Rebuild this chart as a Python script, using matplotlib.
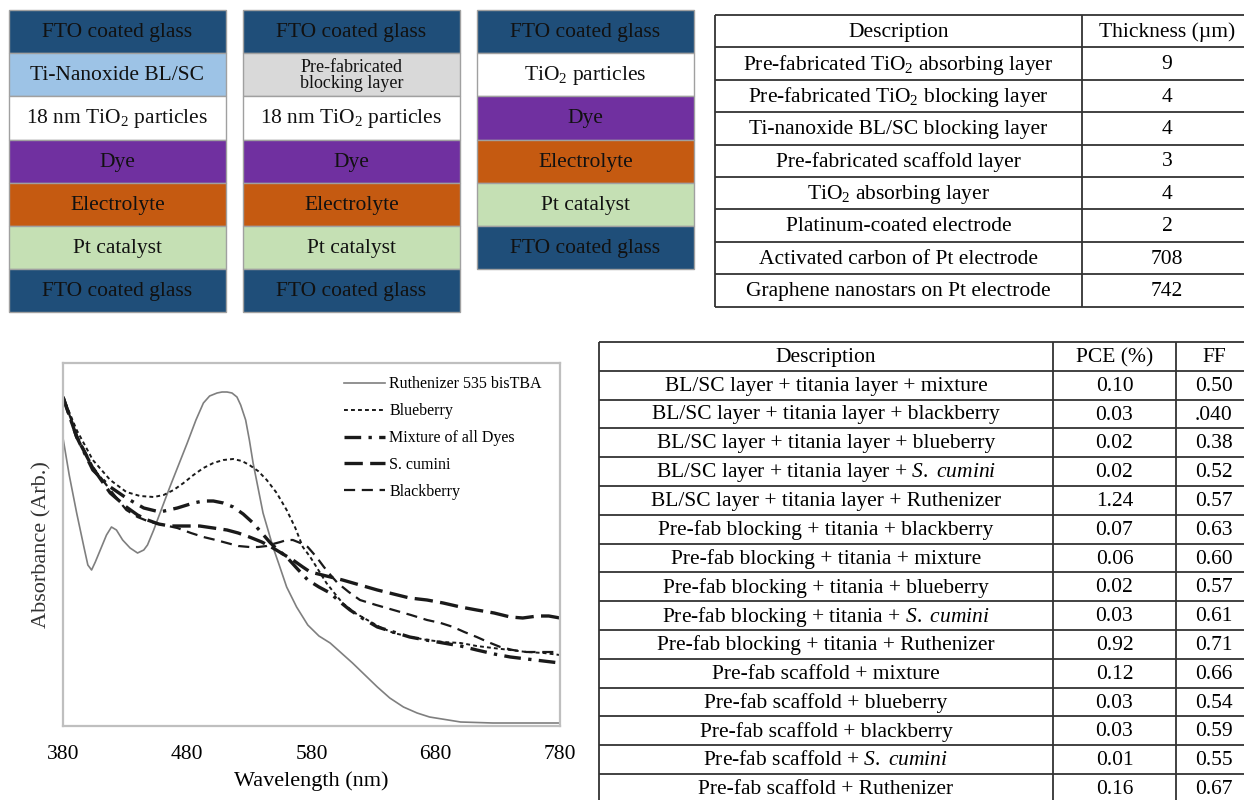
import matplotlib
matplotlib.use("Agg")
import matplotlib.pyplot as plt
from matplotlib.patches import Rectangle

plt.rcParams['font.family'] = ['Liberation Serif', 'DejaVu Serif']
plt.rcParams['mathtext.fontset'] = 'custom'
plt.rcParams['mathtext.rm'] = 'Liberation Serif'
plt.rcParams['mathtext.it'] = 'Liberation Serif:italic'

# ---------------- data ----------------
# layer stacks (label, colour key)
stack1 = [("FTO coated glass", "fto"), ("Ti-Nanoxide BL/SC", "bl"), ("18 nm TiO$_2$ particles", "white"),
          ("Dye", "dye"), ("Electrolyte", "elec"), ("Pt catalyst", "pt"), ("FTO coated glass", "fto")]
stack2 = [("FTO coated glass", "fto"), ("Pre-fabricated\nblocking layer", "gray"), ("18 nm TiO$_2$ particles", "white"),
          ("Dye", "dye"), ("Electrolyte", "elec"), ("Pt catalyst", "pt"), ("FTO coated glass", "fto")]
stack3 = [("FTO coated glass", "fto"), ("TiO$_2$ particles", "white"), ("Dye", "dye"),
          ("Electrolyte", "elec"), ("Pt catalyst", "pt"), ("FTO coated glass", "fto")]
layer_colors = {"fto": "#1F4E79", "bl": "#9DC3E6", "gray": "#D9D9D9", "white": "#FFFFFF",
                "dye": "#7030A0", "elec": "#C55A11", "pt": "#C5E0B4"}

# thickness table
thick_header = ["Description", "Thickness (µm)"]
thick_desc = ["Pre-fabricated TiO$_2$ absorbing layer", "Pre-fabricated TiO$_2$ blocking layer",
              "Ti-nanoxide BL/SC blocking layer", "Pre-fabricated scaffold layer",
              "TiO$_2$ absorbing layer", "Platinum-coated electrode",
              "Activated carbon of Pt electrode", "Graphene nanostars on Pt electrode"]
thick_vals = ["9", "4", "4", "3", "4", "2", "708", "742"]

# performance table
perf_header = ["Description", "PCE (%)", "FF"]
perf_desc = ["BL/SC layer + titania layer + mixture",
             "BL/SC layer + titania layer + blackberry",
             "BL/SC layer + titania layer + blueberry",
             r"BL/SC layer + titania layer + $\it{S.\ cumini}$",
             "BL/SC layer + titania layer + Ruthenizer",
             "Pre-fab blocking + titania + blackberry",
             "Pre-fab blocking + titania + mixture",
             "Pre-fab blocking + titania + blueberry",
             r"Pre-fab blocking + titania + $\it{S.\ cumini}$",
             "Pre-fab blocking + titania + Ruthenizer",
             "Pre-fab scaffold + mixture",
             "Pre-fab scaffold + blueberry",
             "Pre-fab scaffold + blackberry",
             r"Pre-fab scaffold + $\it{S.\ cumini}$",
             "Pre-fab scaffold + Ruthenizer"]
perf_pce = ["0.10", "0.03", "0.02", "0.02", "1.24", "0.07", "0.06", "0.02", "0.03", "0.92",
            "0.12", "0.03", "0.03", "0.01", "0.16"]
perf_ff = ["0.50", ".040", "0.38", "0.52", "0.57", "0.63", "0.60", "0.57", "0.61", "0.71",
           "0.66", "0.54", "0.59", "0.55", "0.67"]

# absorbance spectra (arbitrary units)
ru_wl = [380, 385, 391, 397, 400, 403, 406, 411, 415, 419, 423, 428, 434, 440, 445, 448, 453, 459, 466,
         473, 480, 487, 493, 498, 504, 508, 512, 516, 520, 523, 527, 530, 533, 537, 541, 545, 549, 554,
         560, 568, 577, 586, 595, 604, 613, 623, 633, 643, 654, 665, 675, 690, 700, 726, 780]
ru_abs = [288, 251, 213, 178, 161, 156, 164, 179, 191, 199, 196, 186, 178, 173, 176, 181, 196, 216, 239,
          261, 283, 306, 323, 330, 333, 334, 334, 333, 329, 321, 306, 286, 263, 238, 213, 196, 179, 161,
          139, 119, 101, 90, 83, 73, 63, 51, 39, 28, 19, 13, 9, 6, 4, 3, 3]

bb_wl = [380, 391, 404, 418, 431, 442, 453, 461, 469, 477, 485, 493, 501, 509, 517, 524, 530, 537, 544,
         552, 560, 567, 573, 579, 586, 592, 599, 605, 615, 625, 635, 646, 660, 673, 686, 700, 713, 726,
         740, 753, 767, 780]
bb_abs = [329, 296, 266, 246, 234, 230, 229, 231, 236, 243, 251, 258, 263, 266, 267, 265, 261, 255, 246,
          233, 216, 198, 179, 169, 155, 143, 132, 123, 113, 106, 99, 93, 89, 86, 84, 83, 80, 78,
          76, 74, 73, 71]

mix_wl = [380, 391, 404, 418, 431, 445, 458, 472, 485, 493, 501, 509, 517, 525, 533, 540, 547, 553, 560,
          568, 577, 586, 595, 603, 611, 622, 633, 646, 659, 672, 686, 700, 713, 727, 740, 760, 780]
mix_abs = [329, 289, 256, 239, 228, 218, 214, 218, 223, 225, 225, 223, 219, 212, 203, 193, 183, 176, 169,
           158, 146, 139, 133, 124, 116, 107, 99, 94, 89, 86, 83, 80, 76, 72, 69, 66, 63]

sc_wl = [380, 391, 404, 418, 431, 440, 448, 457, 466, 478, 490, 501, 512, 521, 530, 540, 549, 557, 565,
         573, 579, 592, 605, 619, 633, 646, 659, 673, 686, 700, 713, 727, 740, 750, 762, 771, 780]
sc_abs = [329, 289, 258, 233, 219, 211, 206, 202, 200, 200, 200, 198, 196, 193, 189, 184, 178, 172, 166,
          159, 154, 150, 146, 141, 136, 132, 128, 126, 123, 119, 116, 113, 109, 108, 110, 110, 108]

bk_wl = [380, 391, 404, 418, 431, 440, 450, 461, 472, 483, 493, 503, 512, 521, 530, 537, 544, 549, 555,
         560, 565, 571, 577, 584, 590, 596, 601, 610, 619, 632, 646, 660, 673, 684, 694, 703, 713, 722,
         732, 742, 753, 767, 780]
bk_abs = [329, 291, 259, 236, 216, 209, 204, 201, 198, 193, 189, 186, 183, 180, 179, 179, 180, 182, 184,
          186, 186, 183, 179, 169, 159, 150, 143, 134, 126, 121, 116, 111, 106, 103, 99, 94, 89, 84,
          79, 76, 74, 74, 74]

x_ticks = [380, 480, 580, 680, 780]

# ---------------- figure ----------------
W, H = 1244, 800
fig = plt.figure(figsize=(W / 100, H / 100), dpi=100)
ov = fig.add_axes([0, 0, 1, 1])
ov.set_xlim(0, W)
ov.set_ylim(H, 0)
ov.axis('off')

FS = 15.5
edge = "#A0A0A0"

def draw_stack(rows, x0, x1, top, rh):
    for i, (lab, key) in enumerate(rows):
        y0 = top + i * rh
        ov.add_patch(Rectangle((x0, y0), x1 - x0, rh, facecolor=layer_colors[key],
                               edgecolor=edge, lw=1.0))
        if "\n" in lab:
            ov.text((x0 + x1) / 2, y0 + rh / 2 + 1, lab, ha='center', va='center', fontsize=13,
                    linespacing=0.95, color="#111111")
        else:
            ov.text((x0 + x1) / 2, y0 + rh / 2 + 1, lab, ha='center', va='center', fontsize=FS,
                    color="#111111")

rh = 43.2
draw_stack(stack1, 9, 226, 10, rh)
draw_stack(stack2, 243, 460, 10, rh)
draw_stack(stack3, 477, 694, 10, rh)

line_c = "#333333"

def draw_table(x_edges, top, row_h, header, cols):
    nrows = len(cols[0]) + 1
    bottom = top + nrows * row_h
    for i in range(nrows + 1):
        y = top + i * row_h
        ov.plot([x_edges[0], x_edges[-1]], [y, y], color=line_c, lw=1.3, solid_capstyle='butt')
    for x in x_edges:
        ov.plot([x, x], [top, bottom], color=line_c, lw=1.3, solid_capstyle='butt')
    for j in range(len(header)):
        cx = (x_edges[j] + x_edges[j + 1]) / 2
        ov.text(cx, top + row_h / 2 + 1, header[j], ha='center', va='center', fontsize=FS)
        for i, val in enumerate(cols[j]):
            ov.text(cx, top + (i + 1.5) * row_h + 1, val, ha='center', va='center', fontsize=FS)

draw_table([715, 1082, 1252], 15, 32.4, thick_header, [thick_desc, thick_vals])
draw_table([599, 1053, 1176, 1252], 342, 28.8, perf_header, [perf_desc, perf_pce, perf_ff])

# ---------------- spectra ----------------
ax = fig.add_axes([63 / W, (H - 726) / H, 497 / W, 363 / H])
ax.plot(ru_wl, ru_abs, color="#7F7F7F", lw=1.2, label="Ruthenizer 535 bisTBA")
ax.plot(bb_wl, bb_abs, color="#1A1A1A", lw=1.4, dashes=(2, 1.6), label="Blueberry")
ax.plot(mix_wl, mix_abs, color="#1A1A1A", lw=2.4, dashes=(5, 2.2, 1, 2.2), label="Mixture of all Dyes")
ax.plot(sc_wl, sc_abs, color="#1A1A1A", lw=2.4, dashes=(5.5, 2.2), label="S. cumini")
ax.plot(bk_wl, bk_abs, color="#1A1A1A", lw=1.6, dashes=(5, 3), label="Blackberry")

ax.set_xlim(380, 780)
ax.set_ylim(0, 363)
ax.set_xticks(x_ticks)
ax.set_xticklabels([str(t) for t in x_ticks])
ax.set_yticks([])
ax.tick_params(axis='x', length=0, pad=14, labelsize=15.5)
for s in ax.spines.values():
    s.set_color("#BFBFBF")
    s.set_linewidth(1.6)
ax.set_xlabel("Wavelength (nm)", fontsize=16, labelpad=5)
ax.set_ylabel("Absorbance (Arb.)", fontsize=16, color="#333333", labelpad=8)

leg = ax.legend(loc='upper left', bbox_to_anchor=(0.565, 0.963), frameon=False, fontsize=11.5,
                handlelength=2.6, handletextpad=0.25, labelspacing=0.68, borderpad=0, borderaxespad=0)

fig.savefig("out.png", dpi=100)
